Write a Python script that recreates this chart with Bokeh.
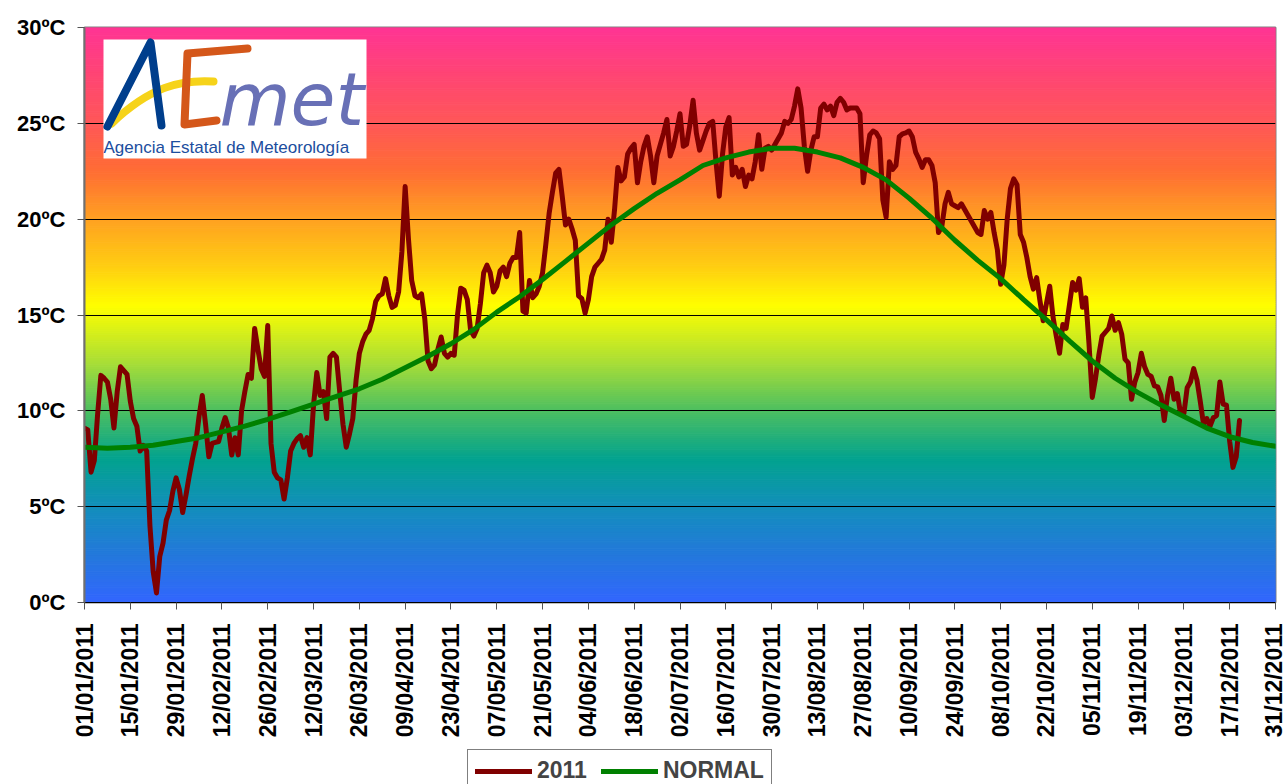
import numpy as np
from bokeh.plotting import figure
from bokeh.layouts import column
from bokeh.models import Range1d, FixedTicker, Legend, LegendItem
from bokeh.embed import file_html
from bokeh.resources import INLINE
from bokeh.core.properties import value

# ---------------- data ----------------
# daily mean temperature 2011 (from 01/01/2011), ºC
t2011 = [
    9.1, 9.0, 6.8, 7.4, 9.8, 11.85, 11.7, 11.5, 10.6, 9.1,
    11.0, 12.3, 12.1, 11.9, 10.5, 9.6, 9.2, 7.9, 8.2, 7.9,
    4.0, 1.6, 0.5, 2.4, 3.1, 4.3, 4.8, 5.8, 6.5, 5.9,
    4.7, 5.6, 6.6, 7.5, 8.3, 9.7, 10.8, 9.3, 7.6, 8.3,
    8.35, 8.4, 9.1, 9.65, 9.1, 7.7, 8.6, 7.7, 10.0, 11.0,
    11.9, 11.7, 14.3, 13.2, 12.2, 11.8, 14.45, 8.3, 6.8, 6.5,
    6.4, 5.4, 6.5, 7.9, 8.3, 8.55, 8.7, 8.1, 8.6, 7.7,
    10.3, 12.0, 10.8, 11.0, 9.6, 12.8, 13.0, 12.8, 11.0, 9.3,
    8.1, 8.8, 9.6, 11.6, 13.0, 13.6, 14.0, 14.2, 14.8, 15.7,
    16.0, 16.1, 16.9, 16.0, 15.4, 15.5, 16.2, 18.3, 21.7, 19.0,
    16.8, 16.0, 15.9, 16.1, 14.8, 12.6, 12.2, 12.4, 13.2, 13.85,
    13.0, 12.8, 13.0, 12.9, 15.0, 16.4, 16.3, 15.8, 14.2, 13.9,
    14.3, 15.6, 17.2, 17.6, 17.2, 16.2, 16.5, 17.3, 17.5, 17.0,
    17.7, 18.0, 18.0, 19.3, 15.2, 15.1, 16.8, 15.9, 16.1, 16.5,
    17.2, 18.7, 20.3, 21.4, 22.4, 22.6, 21.2, 19.7, 20.0, 19.5,
    18.9, 16.0, 15.85, 15.1, 15.8, 17.0, 17.5, 17.7, 17.9, 18.4,
    20.0, 18.8, 20.5, 22.7, 22.0, 22.2, 23.4, 23.7, 23.9, 21.9,
    23.0, 23.8, 24.3, 23.3, 21.9, 23.3, 23.9, 24.5, 25.2, 23.3,
    23.8, 24.6, 25.5, 23.8, 23.9, 24.9, 26.2, 24.5, 23.6, 24.1,
    24.6, 25.0, 25.1, 23.0, 21.2, 23.4, 24.8, 25.3, 22.3, 22.7,
    22.2, 22.6, 21.7, 22.3, 22.1, 23.0, 24.4, 22.6, 23.7, 23.8,
    23.6, 23.9, 24.2, 24.5, 25.1, 25.0, 25.2, 25.9, 26.8, 25.8,
    23.8, 22.5, 23.6, 24.3, 24.3, 25.8, 26.0, 25.7, 25.9, 25.4,
    26.1, 26.3, 26.1, 25.7, 25.8, 25.8, 25.8, 25.5, 21.9, 23.3,
    24.4, 24.6, 24.5, 24.2, 21.0, 20.1, 23.0, 22.6, 22.8, 24.3,
    24.45, 24.5, 24.6, 24.3, 23.5, 23.15, 22.7, 23.1, 23.1, 22.8,
    21.9, 19.3, 19.6, 20.8, 21.4, 20.8, 20.7, 20.6, 20.8, 20.5,
    20.2, 19.9, 19.6, 19.3, 19.2, 20.45, 20.0, 20.35, 19.3, 18.4,
    16.6, 17.6, 20.0, 21.6, 22.1, 21.8, 19.2, 18.8, 18.0, 17.0,
    16.35, 16.95, 15.75, 14.7, 15.6, 16.5, 14.9, 13.9, 13.0, 14.5,
    14.3, 15.5, 16.7, 16.3, 16.9, 15.4, 15.9, 13.5, 10.7, 11.7,
    12.9, 13.9, 14.1, 14.3, 14.95, 14.2, 14.6, 14.0, 12.7, 12.5,
    10.6, 11.5, 12.0, 13.0, 12.3, 11.9, 11.8, 11.3, 11.25, 10.8,
    9.5, 10.8, 11.7, 10.6, 10.9, 9.85, 9.85, 11.2, 11.5, 12.2,
    11.6, 10.5, 9.3, 9.6, 9.2, 9.65, 9.75, 11.5, 10.35, 10.3,
    8.4, 7.05, 7.6, 9.5,
]
days_2011 = list(range(len(t2011)))

# climatological normal (sampled weekly, day-of-year index from 01/01)
normal_days = list(range(0, 365, 7)) + [364]
normal_vals = [
    8.10, 8.05, 8.10, 8.20, 8.40, 8.60, 8.90, 9.20, 9.55, 9.95,
    10.35, 10.75, 11.15, 11.65, 12.25, 12.85, 13.50, 14.25, 15.15, 15.95,
    16.85, 17.80, 18.75, 19.70, 20.55, 21.35, 22.05, 22.80, 23.20, 23.50,
    23.70, 23.70, 23.50, 23.20, 22.70, 22.05, 21.10, 20.05, 18.90, 17.85,
    16.90, 15.80, 14.75, 13.65, 12.60, 11.70, 10.95, 10.30, 9.70, 9.10,
    8.65, 8.35, 8.15, 8.15,
]

tick_days = list(range(0, 365, 14))
tick_labels = [
    "01/01/2011", "15/01/2011", "29/01/2011", "12/02/2011", "26/02/2011",
    "12/03/2011", "26/03/2011", "09/04/2011", "23/04/2011", "07/05/2011",
    "21/05/2011", "04/06/2011", "18/06/2011", "02/07/2011", "16/07/2011",
    "30/07/2011", "13/08/2011", "27/08/2011", "10/09/2011", "24/09/2011",
    "08/10/2011", "22/10/2011", "05/11/2011", "19/11/2011", "03/12/2011",
    "17/12/2011", "31/12/2011",
]
y_ticks = [0, 5, 10, 15, 20, 25, 30]
y_labels = ["0ºC", "5ºC", "10ºC", "15ºC", "20ºC", "25ºC", "30ºC"]
series_names = ["2011", "NORMAL"]
series_colors = ["#800000", "#008000"]

# ---------------- main figure ----------------
FONT = "Liberation Sans"
p = figure(width=1286, height=748, output_backend="svg", toolbar_location=None,
           x_range=Range1d(0, 364), y_range=Range1d(0, 30),
           min_border_left=84, min_border_right=11, min_border_top=27,
           min_border_bottom=146, background_fill_color="white",
           border_fill_color="white")
p.outline_line_color = "#808080"
p.outline_line_width = 2

# background gradient (style only)
stops_t = [0, 2.5, 5, 7.5, 10, 12.5, 15.5, 17.5, 20, 22.5, 25, 27.5, 30]
stops_c = ["#3366FF", "#2479DC", "#138FBC", "#03A38F", "#4CBF62", "#A8DE38",
           "#FFFF00", "#FFCF12", "#FFA222", "#FF6E34", "#FF5858", "#FF4674", "#FF3594"]
rgb = np.array([[int(c[i:i + 2], 16) for i in (1, 3, 5)] for c in stops_c], float)
lv = np.arange(0, 30, 0.1)
cols = []
for m in lv + 0.05:
    r = np.interp(m, stops_t, rgb[:, 0]); g = np.interp(m, stops_t, rgb[:, 1]); b = np.interp(m, stops_t, rgb[:, 2])
    cols.append("#%02x%02x%02x" % (int(r), int(g), int(b)))
p.quad(left=0, right=364, bottom=lv, top=lv + 0.1, fill_color=cols, line_color=cols,
       line_width=1, level="image")

# logo (decoration), positioned in page pixels then converted
def px(x):
    return (x - 84) / (1191 / 364)

def py(y):
    return (602 - y) / (575 / 30)

p.quad(left=px(103), right=px(366), bottom=py(158), top=py(39), fill_color="white", line_color=None)
p.bezier(x0=px(111), y0=py(123), x1=px(213), y1=py(81), cx0=px(150), cy0=py(86),
         cx1=px(180), cy1=py(79), line_color="#F6D31A", line_width=8, line_cap="round")
p.multi_line(xs=[[px(107), px(150), px(161)]], ys=[[py(126), py(42), py(125)]],
             line_color="#003E8C", line_width=8, line_cap="round", line_join="round")
p.multi_line(xs=[[px(247), px(187), px(184), px(216)]],
             ys=[[py(48), py(53), py(124), py(120)]],
             line_color="#D4571A", line_width=8, line_cap="round", line_join="round")
p.text(x=[px(219)], y=[py(99)], text=["met"], text_color="#6870B6",
       text_font=value("DejaVu Sans"), text_font_size="73px", text_font_style="italic",
       text_baseline="middle", text_align="left")
p.text(x=[px(103)], y=[py(147)], text=["Agencia Estatal de Meteorología"], text_color="#1C4E9E",
       text_font=value(FONT), text_font_size="17px", text_baseline="middle", text_align="left")

# data lines
r1 = p.line(days_2011, t2011, line_color=series_colors[0], line_width=5, line_join="round", line_cap="round")
r2 = p.line(normal_days, normal_vals, line_color=series_colors[1], line_width=5, line_join="round", line_cap="round")

# axes
p.xgrid.visible = False
p.ygrid.ticker = FixedTicker(ticks=y_ticks)
p.ygrid.grid_line_color = "black"
p.ygrid.grid_line_width = 1
p.ygrid.grid_line_alpha = 1

p.xaxis.ticker = FixedTicker(ticks=tick_days)
p.xaxis.major_label_overrides = {d: l for d, l in zip(tick_days, tick_labels)}
p.xaxis.major_label_orientation = np.pi / 2
p.yaxis.ticker = FixedTicker(ticks=y_ticks)
p.yaxis.major_label_overrides = {t: l for t, l in zip(y_ticks, y_labels)}
for ax in (p.xaxis, p.yaxis):
    ax.major_label_text_font = FONT
    ax.major_label_text_font_style = "bold"
    ax.major_label_text_color = "black"
    ax.minor_tick_line_color = None
    ax.major_tick_in = 0
    ax.major_tick_out = 7
    ax.major_tick_line_color = "#555555"
    ax.major_tick_line_width = 1
p.xaxis.major_label_text_font_size = "23px"
p.yaxis.major_label_text_font_size = "22px"
p.xaxis.axis_line_color = "black"
p.xaxis.axis_line_width = 1
p.xaxis.major_label_standoff = 14
p.yaxis.axis_line_color = "#707070"
p.yaxis.axis_line_width = 2
p.yaxis.major_label_standoff = 12

# ---------------- legend strip ----------------
p2 = figure(width=1286, height=36, output_backend="svg", toolbar_location=None,
            x_range=Range1d(0, 1), y_range=Range1d(0, 1), x_axis_type=None, y_axis_type=None,
            min_border_left=0, min_border_right=0, min_border_top=0, min_border_bottom=0,
            outline_line_color=None, background_fill_color="white", border_fill_color="white")
p2.xgrid.visible = False
p2.ygrid.visible = False
# proxy renderers for the legend keys (drawn outside this strip's visible range)
lr1 = p2.line(x=[5, 6], y=[5, 6], line_color=series_colors[0], line_width=5, line_cap="round")
lr2 = p2.line(x=[5, 6], y=[5, 6], line_color=series_colors[1], line_width=5, line_cap="round")
legend = Legend(items=[LegendItem(label=series_names[0], renderers=[lr1]),
                       LegendItem(label=series_names[1], renderers=[lr2])],
                orientation="horizontal", location=(383, -8), margin=0, padding=7,
                spacing=14, glyph_width=57, glyph_height=20, label_standoff=5,
                label_text_font=FONT, label_text_font_style="bold",
                label_text_font_size="23px", border_line_color="black",
                border_line_width=1, background_fill_color="white", background_fill_alpha=1)
p2.add_layout(legend)

layout = column(p, p2, spacing=0)
open("out.html", "w").write(file_html(layout, INLINE))
